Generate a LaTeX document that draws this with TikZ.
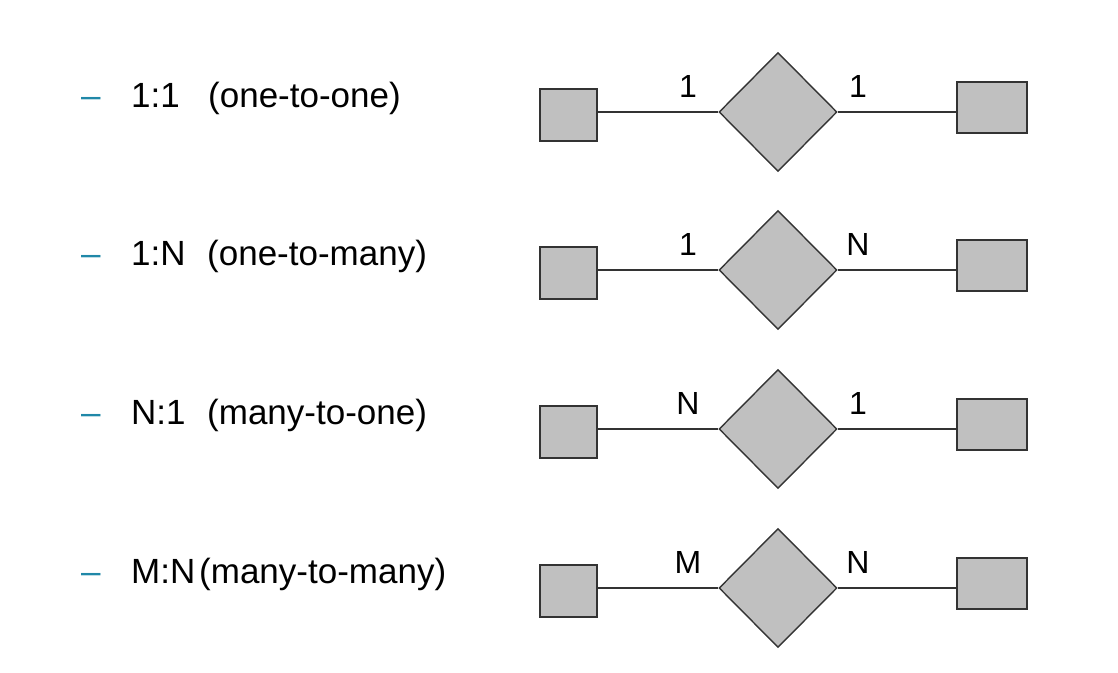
\documentclass[tikz,border=0pt]{standalone}
\usepackage{fontspec}
\setmainfont{Liberation Sans}
\usetikzlibrary{shapes.geometric}
\definecolor{boxgray}{HTML}{C0C0C0}
\definecolor{edgegray}{HTML}{333333}
\definecolor{dashteal}{HTML}{2088A8}
\begin{document}
\begin{tikzpicture}[x=1pt,y=-1pt,
  ent/.style={draw=edgegray,fill=boxgray,line width=1.4pt,inner sep=0pt},
  rel/.style={diamond,draw=edgegray,fill=boxgray,line width=1.4pt,inner sep=0pt,minimum width=118pt,minimum height=119pt},
  conn/.style={draw=edgegray,line width=1.2pt},
  card/.style={font=\fontsize{32}{38}\selectfont,inner sep=0pt,anchor=base},
  itemtxt/.style={font=\fontsize{35}{42}\selectfont,inner sep=0pt,anchor=base west,text=black},
  bullet/.style={font=\fontsize{35}{42}\selectfont,inner sep=0pt,anchor=base west,text=dashteal}]
\useasboundingbox (0,0) rectangle (1118,672);
\foreach \i/\L/\code/\cx/\desc/\lc/\rc in {1/112/1:1/208/(one-to-one)/1/1,
                                      2/270/1:N/207/(one-to-many)/1/N,
                                      3/429/N:1/207/(many-to-one)/N/1,
                                      4/588/M:N/199/(many-to-many)/M/N}{
  \node[bullet] (b\i) at (81,\L-5) {–};
  \node[itemtxt] (c\i) at (131,\L-5) {\code};
  \node[itemtxt] (t\i) at (\cx,\L-5) {\desc};
  \node[ent,minimum width=57pt,minimum height=52pt] (l\i) at (568.5,\L+3) {};
  \node[rel] (d\i) at (778,\L) {};
  \node[ent,minimum width=70pt,minimum height=51pt] (r\i) at (992,\L-4.5) {};
  \draw[conn] (d\i.west) -- (d\i.west -| l\i.east);
  \draw[conn] (d\i.east) -- (d\i.east -| r\i.west);
  \node[card] (lc\i) at (688,\L-15) {\lc};
  \node[card] (rc\i) at (858,\L-15) {\rc};
}
\end{tikzpicture}
\end{document}
